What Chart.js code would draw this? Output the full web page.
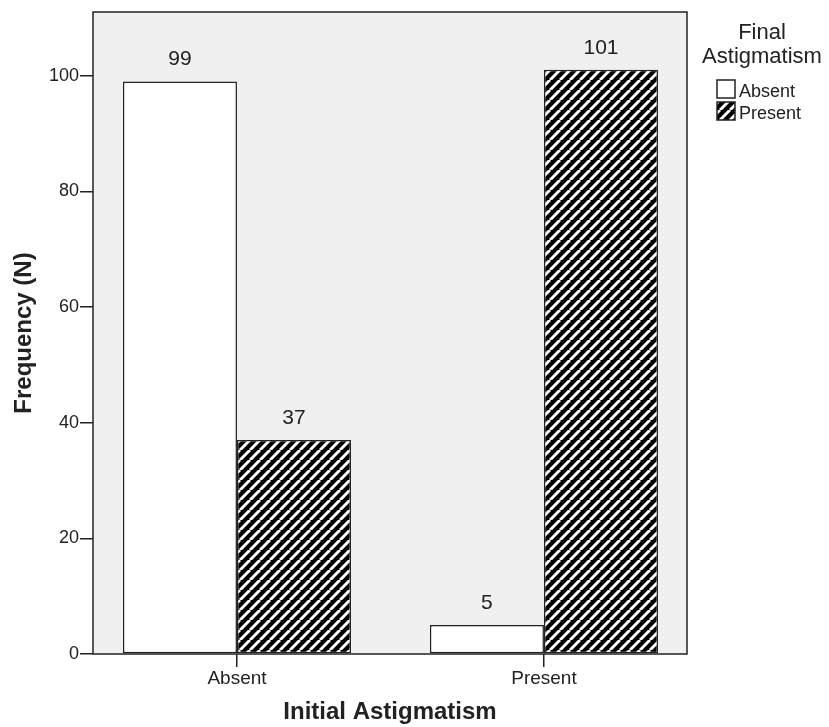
<!DOCTYPE html>
<html>
<head>
<meta charset="utf-8">
<script src="https://cdn.jsdelivr.net/npm/chart.js@4"></script>
<style>
    html, body { margin: 0; padding: 0; background: #fff; }
    #wrap { width: 829px; height: 727px; }
</style>
</head>
<body>
<div id="wrap"><canvas id="chart" width="829" height="727"></canvas></div>
<script>
const categories = ['Absent', 'Present'];
const seriesNames = ['Absent', 'Present'];
const absentValues = [99, 5];
const presentValues = [37, 101];
const yTicks = [0, 20, 40, 60, 80, 100];

const FONT = '"Liberation Sans", Arial, sans-serif';
const INK = '#222';

function makeHatch(size) {
    const c = document.createElement('canvas');
    c.width = size;
    c.height = size;
    const g = c.getContext('2d');
    g.fillStyle = '#000';
    g.fillRect(0, 0, size, size);
    g.strokeStyle = '#fff';
    g.lineWidth = 3;
    for (let k = -1; k <= 1; k++) {
        g.beginPath();
        g.moveTo(k * size, size);
        g.lineTo(k * size + size, 0);
        g.stroke();
    }
    return g.createPattern(c, 'repeat');
}

const ctx = document.getElementById('chart');
const hatch = makeHatch(10);

const plotBackground = {
    id: 'plotBackground',
    beforeDraw(chart) {
        const { ctx, chartArea: a } = chart;
        ctx.save();
        ctx.fillStyle = '#fff';
        ctx.fillRect(0, 0, chart.width, chart.height);
        ctx.fillStyle = '#f0f0f0';
        ctx.fillRect(a.left, a.top, a.right - a.left, a.bottom - a.top);
        ctx.restore();
    },
    afterDraw(chart) {
        const { ctx, chartArea: a } = chart;
        ctx.save();
        ctx.strokeStyle = INK;
        ctx.lineWidth = 1.5;
        ctx.strokeRect(a.left, a.top, a.right - a.left, a.bottom - a.top);
        ctx.restore();
    }
};

const valueLabels = {
    id: 'valueLabels',
    afterDatasetsDraw(chart) {
        const { ctx } = chart;
        ctx.save();
        ctx.font = '21px ' + FONT;
        ctx.fillStyle = INK;
        ctx.textAlign = 'center';
        ctx.textBaseline = 'alphabetic';
        chart.data.datasets.forEach((ds, i) => {
            chart.getDatasetMeta(i).data.forEach((bar, j) => {
                ctx.fillText(String(ds.data[j].y), bar.x, bar.y - 16);
            });
        });
        ctx.restore();
    }
};

// SPSS style legend to the right of the plot
const sideLegend = {
    id: 'sideLegend',
    afterDraw(chart) {
        const { ctx } = chart;
        ctx.save();
        ctx.fillStyle = INK;
        ctx.font = '22px ' + FONT;
        ctx.textAlign = 'center';
        ctx.textBaseline = 'alphabetic';
        ctx.fillText('Final', 762, 39);
        ctx.fillText('Astigmatism', 762, 63);
        ctx.font = '18px ' + FONT;
        ctx.textAlign = 'left';
        chart.data.datasets.forEach((ds, i) => {
            const top = 80 + i * 22;
            ctx.fillStyle = ds.backgroundColor;
            ctx.fillRect(717, top, 18, 18);
            ctx.strokeStyle = INK;
            ctx.lineWidth = 1.5;
            ctx.strokeRect(717, top, 18, 18);
            ctx.fillStyle = INK;
            ctx.fillText(ds.label, 739, top + 17);
        });
        ctx.restore();
    }
};

new Chart(ctx, {
    type: 'bar',
    data: {
        datasets: [
            {
                label: seriesNames[0],
                data: categories.map((c, i) => ({ x: i, y: absentValues[i] })),
                backgroundColor: '#fff',
                borderColor: INK,
                borderWidth: 1.5,
                borderSkipped: false,
            },
            {
                label: seriesNames[1],
                data: categories.map((c, i) => ({ x: i, y: presentValues[i] })),
                backgroundColor: hatch,
                borderColor: INK,
                borderWidth: 1.5,
                borderSkipped: false,
            },
        ],
    },
    options: {
        responsive: false,
        animation: false,
        categoryPercentage: 0.743,
        barPercentage: 1,
        layout: { padding: { top: 12, right: 142, left: 0, bottom: 0 } },
        plugins: {
            legend: { display: false },
            tooltip: { enabled: false },
        },
        scales: {
            x: {
                type: 'linear',
                min: -0.469,
                max: 1.466,
                offset: false,
                afterBuildTicks(scale) {
                    scale.ticks = categories.map((c, i) => ({ value: i }));
                },
                afterFit(scale) { scale.height = 73; },
                ticks: {
                    callback: (v) => categories[v],
                    font: { family: FONT, size: 19 },
                    color: INK,
                    padding: 0,
                    maxRotation: 0,
                },
                grid: { offset: false, drawOnChartArea: false, tickLength: 13, color: INK, lineWidth: 1.5 },
                border: { display: false },
                title: {
                    display: true,
                    text: 'Initial Astigmatism',
                    font: { family: FONT, size: 24, weight: 'bold', lineHeight: 1.2 },
                    color: INK,
                    padding: { top: 0, bottom: 0 },
                },
            },
            y: {
                min: 0,
                max: 111,
                afterBuildTicks(scale) {
                    scale.ticks = yTicks.map((v) => ({ value: v }));
                },
                afterFit(scale) { scale.width = 93; },
                ticks: {
                    font: { family: FONT, size: 18 },
                    color: INK,
                    padding: 1,
                },
                grid: { drawOnChartArea: false, tickLength: 13, color: INK, lineWidth: 1.5 },
                border: { display: false },
                title: {
                    display: true,
                    text: 'Frequency (N)',
                    font: { family: FONT, size: 24, weight: 'bold', lineHeight: 1.2 },
                    color: INK,
                    padding: { top: 10, bottom: 0 },
                },
            },
        },
    },
    plugins: [plotBackground, valueLabels, sideLegend],
});
</script>
</body>
</html>
